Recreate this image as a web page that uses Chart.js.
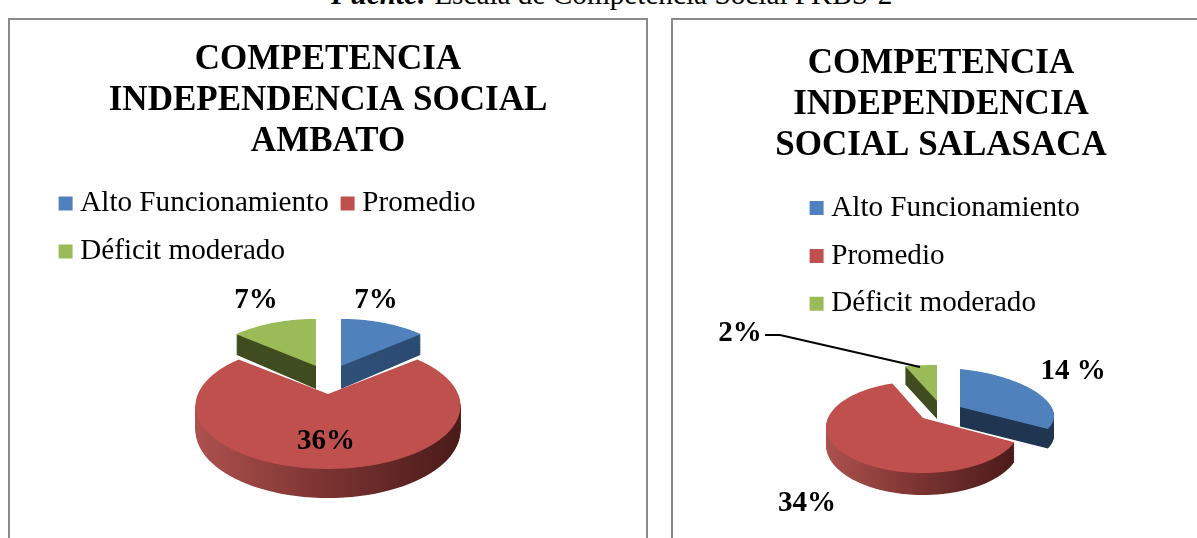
<!DOCTYPE html>
<html>
<head>
<meta charset="utf-8">
<script src="https://cdn.jsdelivr.net/npm/chart.js@4"></script>
<style>
html,body{margin:0;padding:0;background:#fff;width:1197px;height:538px;overflow:hidden;font-family:"Liberation Serif",serif}
#cap{position:absolute;left:331px;top:-22px;font-size:29.25px;line-height:32px;white-space:nowrap;color:#000}
.panel{position:absolute;top:18px;height:540px;border:2px solid #8a8a8a;box-sizing:border-box}
#p1{left:8px;width:640px}
#p2{left:671px;width:540px}
canvas{display:block}
</style>
</head>
<body>
<div id="cap"><b><i>Fuente:</i></b> Escala de Competencia Social PKBS-2</div>
<div class="panel" id="p1"><canvas id="c1" width="636" height="536"></canvas></div>
<div class="panel" id="p2"><canvas id="c2" width="536" height="536"></canvas></div>
<script>
const categories = ['Alto Funcionamiento', 'Promedio', 'Déficit moderado'];
const valuesAmbato = [7, 36, 7];
const valuesSalasaca = [14, 34, 2];
const labelsAmbato = ['7%', '36%', '7%'];
const labelsSalasaca = ['14 %', '34%', '2%'];
const titleAmbato = ['COMPETENCIA', 'INDEPENDENCIA SOCIAL', 'AMBATO'];
const titleSalasaca = ['COMPETENCIA', 'INDEPENDENCIA', 'SOCIAL SALASACA'];
const colors = ['#4F81BD', '#C0504D', '#9BBB59'];

const SERIF = '"Liberation Serif", "Times New Roman", serif';
const views = new Map();

/* Projection of each slice of the chart's own arc elements onto a tilted disc. */
const pie3d = {
  id: 'pie3d',
  afterLayout(chart) {
    chart.titleBlock.left = 0;
    chart.titleBlock.right = chart.width;
    chart.titleBlock.width = chart.width;
  },
  beforeDatasetDraw(chart) {
    const o = views.get(chart.canvas.id);
    const ctx = chart.ctx;
    const arcs = chart.getDatasetMeta(0).data;
    o.order.forEach(i => {
      const s = o.slices[i], el = arcs[i];
      const deg = Math.PI / 180;
      const a0 = el.startAngle + (s.shift ? s.shift[0] * deg : 0);
      const a1 = el.endAngle + (s.shift ? s.shift[1] * deg : 0);
      const pts = [];
      const proj = (u, v) => {
        const p = 1 / (1 + s.k * v);
        return [s.ox + s.rx * u * p, s.oy + (-s.ry * v + (s.b || 0) * u) * p, p];
      };
      pts.push(proj(0, 0));
      const n = 90;
      for (let j = 0; j <= n; j++) {
        const a = a0 + (a1 - a0) * j / n;
        pts.push(proj(Math.cos(a), -Math.sin(a)));
      }
      const xs = pts.map(q => q[0]);
      const g = ctx.createLinearGradient(Math.min(...xs), 0, Math.max(...xs), 0);
      s.wall.forEach((c, q) => g.addColorStop(q / (s.wall.length - 1), c));
      const poly = t => {
        ctx.beginPath();
        pts.forEach((q, m) => {
          const y = q[1] + s.depth * t * q[2];
          if (m) ctx.lineTo(q[0], y); else ctx.moveTo(q[0], y);
        });
        ctx.closePath();
      };
      ctx.save();
      ctx.fillStyle = g;
      const steps = Math.ceil(s.depth * 1.3);
      for (let d = steps; d >= 1; d--) { poly(d / steps); ctx.fill(); }
      poly(0);
      ctx.fillStyle = colors[i];
      ctx.fill();
      ctx.restore();
    });
    return false;
  },
  afterDatasetsDraw(chart) {
    const o = views.get(chart.canvas.id);
    const ctx = chart.ctx;
    ctx.save();
    ctx.fillStyle = '#000';
    ctx.font = 'bold 29px ' + SERIF;
    ctx.textAlign = 'center';
    ctx.textBaseline = 'middle';
    o.slices.forEach((s, i) => ctx.fillText(o.texts[i], s.ox + s.lab[0], s.oy + s.lab[1]));
    if (o.leader) {
      const s = o.slices[o.leader.slice];
      ctx.strokeStyle = '#000';
      ctx.lineWidth = 1.8;
      ctx.beginPath();
      o.leader.path.forEach((q, m) => {
        if (m) ctx.lineTo(s.ox + q[0], s.oy + q[1]); else ctx.moveTo(s.ox + q[0], s.oy + q[1]);
      });
      ctx.stroke();
    }
    ctx.restore();
  }
};

function make(id, values, title, titlePad, pad, view) {
  views.set(id, view);
  return new Chart(document.getElementById(id), {
    type: 'pie',
    data: { labels: categories, datasets: [{ data: values, backgroundColor: colors, borderWidth: 0 }] },
    plugins: [pie3d],
    options: {
      responsive: false,
      animation: false,
      layout: { padding: { left: pad, right: pad } },
      plugins: {
        tooltip: { enabled: false },
        title: {
          display: true, text: title, color: '#000', align: 'center',
          font: { family: SERIF, size: 35, weight: 'bold', lineHeight: 1.171 },
          padding: titlePad
        },
        legend: {
          position: 'top', align: 'start', fullSize: false,
          labels: {
            color: '#000',
            font: { family: SERIF, size: 29.15 },
            boxWidth: 0.2, boxHeight: 0.2, padding: 18.75,
            generateLabels(chart) {
              return Chart.overrides.doughnut.plugins.legend.labels.generateLabels(chart).map(l => {
                l.strokeStyle = l.fillStyle; l.lineWidth = 13.8; return l;
              });
            }
          }
        }
      }
    }
  });
}

const wallRed = ['#AC514E', '#7A3331', '#4A1B1A'];
const OX1 = 10, OY1 = 20, OX2 = 673, OY2 = 20;

make('c1', valuesAmbato, titleAmbato, { top: 19, bottom: 8.25 }, 36.75, {
  order: [0, 2, 1],
  texts: labelsAmbato,
  slices: [
    { ox: 341 - OX1, oy: 366 - OY1, rx: 116, ry: 56, k: 0.19, depth: 23, wall: ['#2E5078', '#2B4A70'], lab: [35, -65.5] },
    { ox: 328 - OX1, oy: 394 - OY1, rx: 130, ry: 60.7, k: 0.19, depth: 23.6, wall: wallRed, lab: [-2, 47.5] },
    { ox: 316 - OX1, oy: 366 - OY1, rx: 116, ry: 56, k: 0.19, depth: 23, wall: ['#3F4C20', '#3F4C20'], lab: [-60, -65.5] }
  ]
});

make('c2', valuesSalasaca, titleSalasaca, { top: 23, bottom: 8.75 }, 124.75, {
  order: [2, 0, 1],
  texts: labelsSalasaca,
  slices: [
    { ox: 960 - OX2, oy: 407 - OY2, rx: 94, ry: 38, b: 9, k: 0, depth: 19.5, wall: ['#1F3550', '#1F3550'], shift: [0, 10], lab: [113, -35] },
    { ox: 923 - OX2, oy: 418 - OY2, rx: 95, ry: 44.2, k: 0.196, depth: 17.7, wall: wallRed, shift: [19, -8], lab: [-116, 85.5] },
    { ox: 937 - OX2, oy: 401 - OY2, rx: 128, ry: 36, k: 0, depth: 18, wall: ['#3F4C20', '#3F4C20'], lab: [-197, -67.5] }
  ],
  leader: { slice: 2, path: [[-172, -66], [-157, -66], [-17, -34]] }
});
</script>
</body>
</html>
